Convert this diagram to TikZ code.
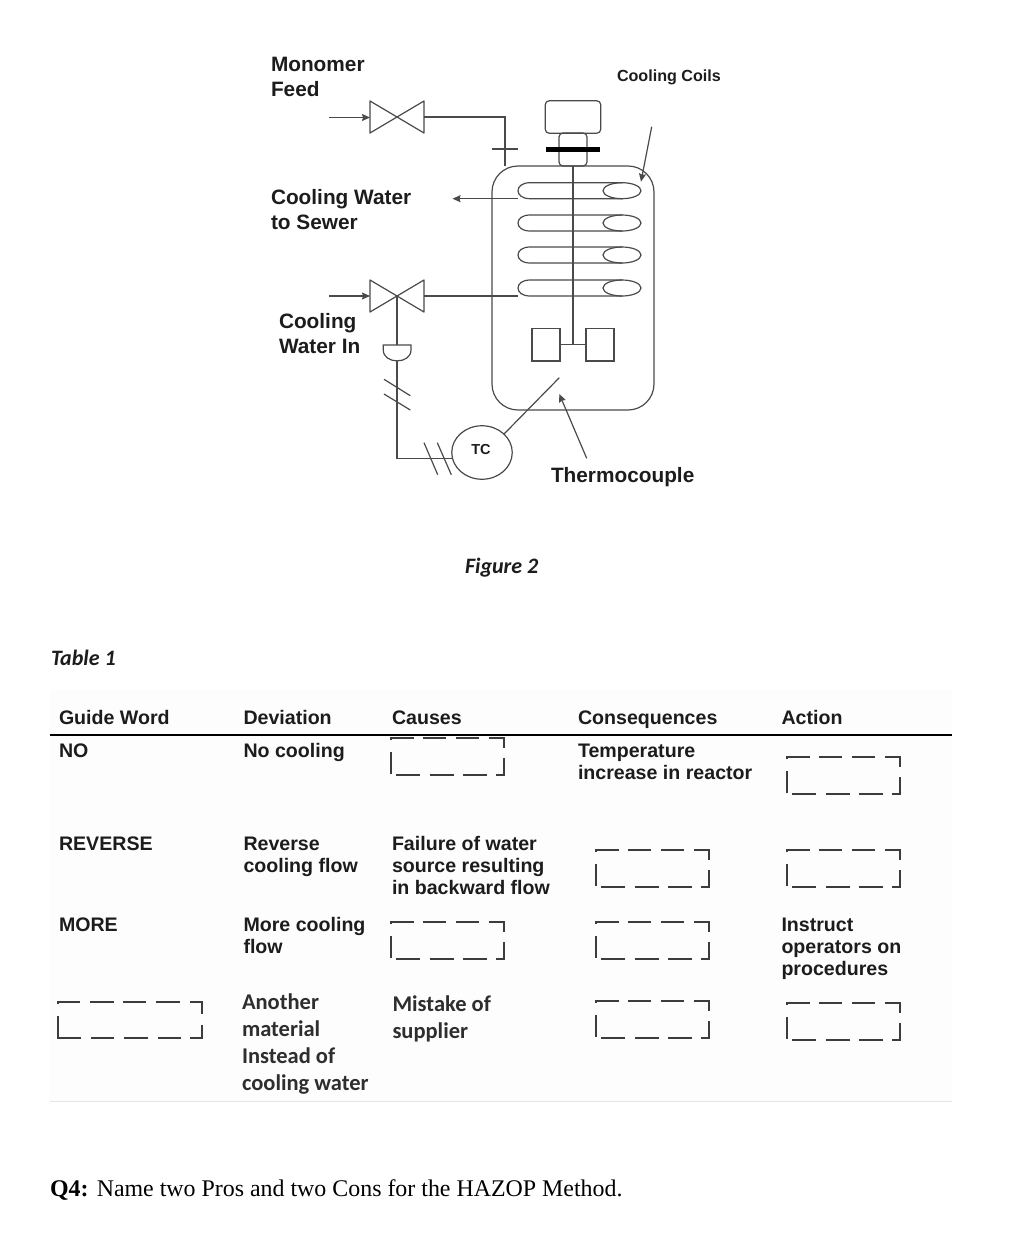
\documentclass[tikz,border=0pt]{standalone}
\usepackage{fontspec}
\setmainfont{Liberation Sans}
\newfontfamily\carlitofont{Carlito}
\newfontfamily\timesfont{Liberation Serif}
\usetikzlibrary{arrows.meta,shapes.geometric}
\definecolor{ink}{HTML}{1C1C1C}
\definecolor{inksoft}{HTML}{2E2E2E}
\definecolor{pipe}{HTML}{4A4A4A}
\definecolor{blank}{HTML}{3C3C3C}
\tikzset{
  x=1pt,y=-1pt,
  pipeline/.style={draw=pipe,line width=1.2pt},
  flow/.style={pipeline,-{Stealth[length=8pt,width=7pt,inset=1pt]}},
  part/.style={pipeline,inner sep=0pt,outer sep=0pt},
  lbl/.style={anchor=base west,inner sep=0pt,outer sep=0pt,text=ink,align=left},
  plabel/.style={lbl,font=\fontsize{20.8}{25}\selectfont\bfseries},
  cell/.style={lbl,font=\fontsize{19.6}{21.8}\selectfont\bfseries},
  cellc/.style={lbl,text=inksoft,font=\fontsize{22.5}{27}\selectfont\carlitofont\bfseries},
  caption/.style={lbl,font=\fontsize{22}{26}\selectfont\carlitofont\bfseries\itshape},
  blankline/.style={draw=blank,line width=2pt},
  valve/.pic={
    \draw[pipeline,line join=round] (-27,-16) -- (27,16) -- (27,-16) -- (-27,16) -- cycle;
  },
  coil/.pic={
    \draw[pipeline] (104,-8) -- (12,-8) .. controls (4,-8) and (0,-4) .. (0,0)
      .. controls (0,4) and (4,8) .. (12,8) -- (104,8);
    \draw[pipeline] (104,0) ellipse[x radius=19,y radius=8];
  },
  blanknarrow/.pic={
    \draw[blankline] (0,2) -- (0,0) -- (23,0) (32,0) -- (55,0) (65,0) -- (88,0)
      (98,0) -- (113,0) -- (113,10) (113,20) -- (113,37) -- (105,37)
      (96,37) -- (72,37) (63,37) -- (39,37) (29,37) -- (5,37) (0,36) -- (0,14);
  },
  blankwide/.pic={
    \draw[blankline] (0,2) -- (0,0) -- (22,0) (32,0) -- (56,0) (65,0) -- (88,0)
      (98,0) -- (122,0) (132,0) -- (144,0) -- (144,12) (144,23) -- (144,36) -- (132,36)
      (123,36) -- (100,36) (90,36) -- (66,36) (56,36) -- (33,36) (23,36) -- (0,36) -- (0,14);
  },
}
\begin{document}
\begin{tikzpicture}
\useasboundingbox (0,0) rectangle (1030,1248);
\fill[white] (0,0) rectangle (1030,1248);
\fill[black!0.6] (50,690) rectangle (952,1101);

% Reactor vessel and agitator
\node[part,draw,rounded corners=26pt,minimum width=162pt,minimum height=244pt] (vessel) at (573,288) {};
\node[part,draw,rounded corners=4pt,minimum width=55.5pt,minimum height=32.5pt] (motor) at (573,117) {};
\node[part,draw,rounded corners=4pt,minimum width=28pt,minimum height=33pt] (coupling) at (573,149.5) {};
\node[fill=black,inner sep=0pt,minimum width=54pt,minimum height=5.6pt] (flange) at (573,149.5) {};
\node[part,draw,minimum width=28pt,minimum height=32.7pt] (bladeL) at (546,344.7) {};
\node[part,draw,minimum width=28pt,minimum height=32.7pt] (bladeR) at (600,344.7) {};
\coordinate (hub) at (573,344.7);
\draw[pipeline] (bladeL.east) -- (bladeR.west);

% Cooling coils
\pic at (518,190.7) {coil};
\pic at (518,223) {coil};
\pic at (518,255) {coil};
\pic at (518,288) {coil};
\coordinate (coilOut) at (518,198.7);
\coordinate (coilIn) at (518,296);

% Agitator shaft runs in front of the coils
\draw[pipeline] (coupling.south) -- (hub);

% Valves
\pic at (397,117) {valve};
\pic at (397,296) {valve};
\coordinate (feedStart) at (329,117.5);
\coordinate (feedValveL) at (370,117.5);
\coordinate (feedValveR) at (424,117);
\coordinate (feedEntry) at (505,166);
\coordinate (waterStart) at (329,296);
\coordinate (waterValveL) at (370,296);
\coordinate (waterValveC) at (397,296);
\coordinate (waterValveR) at (424,296);
\coordinate (sewer) at (452.5,198.7);

\draw[flow] (feedStart) -- (feedValveL);
\draw[pipeline] (feedValveR) -| (feedEntry);
\coordinate (feedTickL) at (492,149);
\coordinate (feedTickR) at (518,149);
\draw[pipeline] (feedTickL) -- (feedTickR);
\draw[flow] (waterStart) -- (waterValveL);
\draw[pipeline] (waterValveR) -- (coilIn);
\draw[flow] (coilOut) -- (sewer);

% Control loop
\node[part,draw,ellipse,minimum width=60.5pt,minimum height=53.5pt] (tc) at (482,452.5) {};
\node[lbl,anchor=center,font=\fontsize{14.5}{16}\selectfont\bfseries] (tcText) at (481,449.5) {TC};
\path[part,draw] (383.3,345) -- (411,345) -- (411,350) .. controls (411,364.5) and (383.3,364.5) .. (383.3,350) -- cycle;
\coordinate (actTop) at (397,345);
\coordinate (actBottom) at (397,361);
\coordinate (loopCorner) at (397,458.3);
\draw[pipeline] (waterValveC) -- (actTop);
\draw[pipeline] (actBottom) -- (loopCorner) -- (tc.west |- loopCorner);
\draw[pipeline] (384,379.3) -- (410.3,395.7);
\draw[pipeline] (384,394) -- (410.3,410);
\draw[pipeline] (424,442.7) -- (437.7,474.7);
\draw[pipeline] (437.3,442.7) -- (451.3,474.7);
\coordinate (probeTip) at (559.3,377.7);
\draw[pipeline] (tc.40) -- (probeTip);

% Leader arrows
\coordinate (coilsFrom) at (651.7,126.7);
\coordinate (coilsTo) at (641,181.7);
\draw[flow] (coilsFrom) -- (coilsTo);
\coordinate (thermoFrom) at (586.7,458.3);
\coordinate (thermoTo) at (559.3,394);
\draw[flow] (thermoFrom) -- (thermoTo);

% Diagram labels
\node[plabel] (monomer) at (271,96.7) {Monomer\\Feed};
\node[lbl,font=\fontsize{16.1}{19}\selectfont\bfseries] (coilsLabel) at (617,81.7) {Cooling Coils};
\node[plabel] (sewerLabel) at (271,229) {Cooling Water\\to Sewer};
\node[plabel] (waterLabel) at (279,353.3) {Cooling\\Water In};
\node[plabel] (thermoLabel) at (551,482.8) {Thermocouple};
\node[caption] (figCaption) at (465,573) {Figure 2};
\node[caption] (tabCaption) at (51,665) {Table 1};

% Table rules
\coordinate (ruleL) at (50,735);
\coordinate (ruleR) at (952,735);
\coordinate (footL) at (50,1101.5);
\coordinate (footR) at (952,1101.5);
\draw[black,line width=2.2pt] (ruleL) -- (ruleR);
\draw[black!10,line width=1pt] (footL) -- (footR);

% Table header
\node[cell] (hGuide) at (59,724.3) {Guide Word};
\node[cell] (hDev) at (243.5,724.3) {Deviation};
\node[cell] (hCause) at (392,724.3) {Causes};
\node[cell] (hCons) at (578,724.3) {Consequences};
\node[cell] (hAct) at (781.5,724.3) {Action};

% Table rows
\node[cell] (r1g) at (59,757.7) {NO};
\node[cell] (r1d) at (243.5,757.7) {No cooling};
\node[cell] (r1c) at (578,779.5) {Temperature\\increase in reactor};
\node[cell] (r2g) at (59,850.7) {REVERSE};
\node[cell] (r2d) at (243.5,872.3) {Reverse\\cooling flow};
\node[cell] (r2c) at (392,894) {Failure of water\\source resulting\\in backward flow};
\node[cell] (r3g) at (59,931.7) {MORE};
\node[cell] (r3d) at (243.5,953.5) {More cooling\\flow};
\node[cell] (r3a) at (781.5,975.3) {Instruct\\operators on\\procedures};
\node[cellc] (r4d) at (242,1090) {Another\\material\\Instead of\\cooling water};
\node[cellc] (r4c) at (392.5,1038.3) {Mistake of\\supplier};

% Blanks left to fill in
\pic at (390.7,737.5) {blanknarrow};
\pic at (787.3,757.3) {blanknarrow};
\pic at (596,850.3) {blanknarrow};
\pic at (787.3,850.3) {blanknarrow};
\pic at (390.7,921.7) {blanknarrow};
\pic at (596,921.7) {blanknarrow};
\pic at (58.3,1001.7) {blankwide};
\pic at (596,1001) {blanknarrow};
\pic at (787.3,1002.7) {blanknarrow};

% Question line
\node[lbl,text=black,font=\fontsize{23.9}{28}\selectfont\timesfont] (question) at (50,1196) {\textbf{Q4:}\hspace{0.3pt} Name two Pros and two Cons for the HAZOP Method.};
\end{tikzpicture}
\end{document}
